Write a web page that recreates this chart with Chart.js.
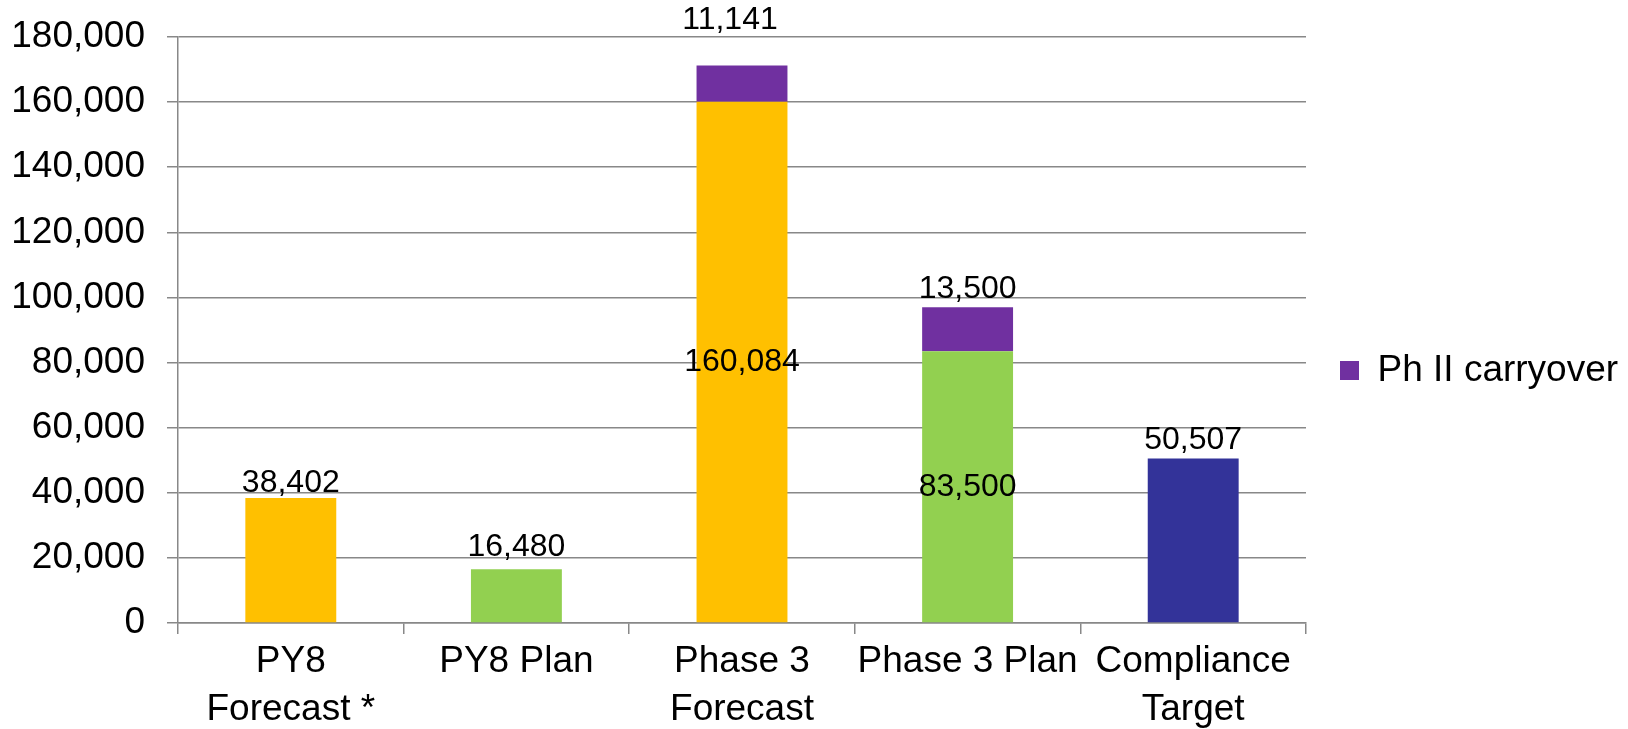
<!DOCTYPE html>
<html>
<head>
<meta charset="utf-8">
<title>Program forecast vs plan</title>
<script src="https://cdn.jsdelivr.net/npm/chart.js@4/dist/chart.umd.min.js"></script>
<style>
  html, body { margin: 0; padding: 0; background: #fff; }
  #wrap { width: 1628px; height: 729px; }
</style>
</head>
<body>
<div id="wrap"><canvas id="chart" width="1628" height="729"></canvas></div>
<script>
// categories and values
const categories = [['PY8', 'Forecast *'], 'PY8 Plan', ['Phase 3', 'Forecast'], 'Phase 3 Plan', ['Compliance', 'Target']];
const baseValues = [38402, 16480, 160084, 83500, 50507];
const carryoverValues = [null, null, 11141, 13500, null];
const baseColors = ['#FFC000', '#92D050', '#FFC000', '#92D050', '#333399'];
const carryoverColor = '#7030A0';
const yMin = 0, yMax = 180000, yStep = 20000;

const FONT = "'Liberation Sans', Arial, sans-serif";
const GRID = '#888888';
const LEGEND_WIDTH = 322;
const LEGEND_SHIFT_Y = 6;
const fmt = v => v.toLocaleString('en-US');

// value labels: stacked bases are labelled in the middle, everything else above the top
const valueLabels = {
  id: 'valueLabels',
  afterDatasetsDraw(chart, args, opts) {
    const ctx = chart.ctx;
    ctx.save();
    ctx.font = `${opts.size}px ${FONT}`;
    ctx.fillStyle = '#000';
    ctx.textAlign = 'center';
    ctx.textBaseline = 'middle';
    chart.data.datasets.forEach((ds, di) => {
      const meta = chart.getDatasetMeta(di);
      meta.data.forEach((bar, i) => {
        const v = ds.data[i];
        if (v == null) return;
        const nudge = (opts.nudge[di] && opts.nudge[di][i]) || [0, 0];
        let y;
        if (di === 0 && carryoverValues[i] != null) {
          y = (bar.y + bar.base) / 2;
        } else {
          y = bar.y - opts.offset;
        }
        ctx.fillText(fmt(v), bar.x + nudge[0], y + nudge[1]);
      });
    });
    ctx.restore();
  }
};

// keep the legend column a fixed width so the plot ends where it should
const fixedLegend = {
  id: 'fixedLegend',
  afterInit(chart) {
    const legend = chart.legend;
    if (!legend) return;
    const fit = legend.fit.bind(legend);
    legend.fit = function () {
      fit();
      this.width = LEGEND_WIDTH;
    };
  },
  afterLayout(chart) {
    const legend = chart.legend;
    if (!legend) return;
    legend.top += LEGEND_SHIFT_Y;
    legend.bottom += LEGEND_SHIFT_Y;
  }
};

const ctx = document.getElementById('chart').getContext('2d');
const chart = new Chart(ctx, {
  type: 'bar',
  data: {
    labels: categories,
    datasets: [
      {
        label: 'Base',
        data: baseValues,
        backgroundColor: baseColors,
        stack: 's'
      },
      {
        label: 'Ph II carryover',
        data: carryoverValues,
        backgroundColor: carryoverColor,
        stack: 's'
      }
    ]
  },
  options: {
    responsive: false,
    animation: false,
    datasets: {
      bar: { categoryPercentage: 1, barPercentage: 0.403 }
    },
    layout: { padding: 0 },
    scales: {
      x: {
        stacked: true,
        grid: { drawOnChartArea: false, offset: true, color: GRID, lineWidth: 1.5, tickLength: 11 },
        border: { color: GRID, width: 1.5 },
        ticks: {
          color: '#000',
          font: { family: FONT, size: 37, lineHeight: 1.3 },
          padding: 4,
          maxRotation: 0,
          autoSkip: false
        },
        afterFit(scale) { scale.height = 106; }
      },
      y: {
        stacked: true,
        min: yMin,
        max: yMax,
        grid: { color: GRID, lineWidth: 1.5, tickLength: 11 },
        border: { color: GRID, width: 1.5 },
        ticks: {
          stepSize: yStep,
          color: '#000',
          font: { family: FONT, size: 37 },
          padding: 22,
          callback: v => fmt(v)
        },
        afterFit(scale) {
          scale.width = 178;
          scale.paddingTop = 37;
          scale.paddingBottom = 0;
        }
      }
    },
    plugins: {
      legend: {
        position: 'right',
        labels: {
          filter: item => item.text === 'Ph II carryover',
          boxWidth: 19,
          boxHeight: 19,
          color: '#000',
          font: { family: FONT, size: 37 },
          padding: 34
        }
      },
      tooltip: { enabled: false },
      valueLabels: {
        size: 32,
        offset: 18,
        nudge: {
          0: { 0: [0, 3], 1: [0, -4] },
          1: { 2: [-12, -27] }
        }
      }
    }
  },
  plugins: [valueLabels, fixedLegend]
});
</script>
</body>
</html>
